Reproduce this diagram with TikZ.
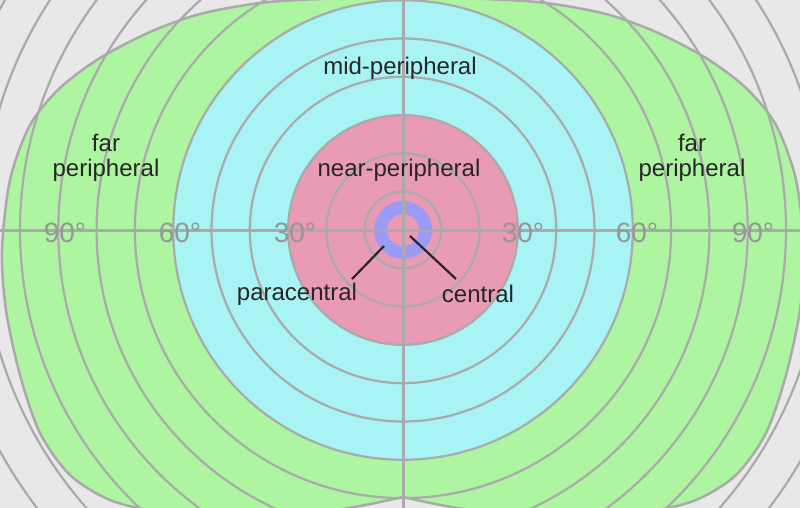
\documentclass[tikz,border=0pt]{standalone}
\usepackage{fontspec}
\setmainfont{Liberation Sans}
\definecolor{bg}{RGB}{232,232,232}
\definecolor{fgreen}{RGB}{173,245,160}
\definecolor{fcyan}{RGB}{168,244,244}
\definecolor{fpink}{RGB}{233,154,180}
\definecolor{fblue}{RGB}{155,155,245}
\definecolor{grid}{RGB}{170,170,170}
\definecolor{deg}{RGB}{150,150,150}
\begin{document}
\begin{tikzpicture}[x=1pt,y=-1pt,
  lbl/.style={font=\fontsize{24}{25}\selectfont, text=black!85, align=center, inner sep=0pt},
  deglbl/.style={font=\fontsize{28}{29}\selectfont, text=deg, inner sep=0pt},
  leader/.style={line width=2.2pt, black!85}]
\useasboundingbox (0,0) rectangle (800,508);
\clip (0,0) rectangle (800,508);
\fill[bg] (0,0) rectangle (800,508);
% green field
\fill[fgreen] (403,-3) -- plot[smooth] coordinates {(403,-3) (320,-1) (260,3) (200,14) (150,32) (100,58) (60,88) (30,125) (10,180) (2,250) (6,310) (20,375) (40,433) (70,475) (110,500) (160,512) (230,518) (300,515) (360,506) (403,497)}
  -- plot[smooth] coordinates {(403,497) (446,506) (506,515) (576,518) (646,512) (696,500) (736,475) (766,433) (786,375) (800,310) (804,250) (796,180) (776,125) (746,88) (706,58) (656,32) (606,14) (546,3) (486,-1) (403,-3)} -- cycle;
\fill[fcyan] (403,230) circle[radius=230];
\fill[fpink] (403,230) circle[radius=115];
\draw[fblue, line width=13pt] (403,230) circle[radius=22.5];
% grid
\foreach \k in {1,...,13} \draw[grid, line width=2.2pt] (403,230) circle[radius=38.3*\k];
\draw[grid, line width=3pt] (0,230) -- (800,230);
\draw[grid, line width=3pt] (403,0) -- (403,508);
% outline of green field
\draw[grid, line width=2.5pt] (403,-3) -- plot[smooth] coordinates {(403,-3) (320,-1) (260,3) (200,14) (150,32) (100,58) (60,88) (30,125) (10,180) (2,250) (6,310) (20,375) (40,433) (70,475) (110,500) (160,512) (230,518) (300,515) (360,506) (403,497)}
  -- plot[smooth] coordinates {(403,497) (446,506) (506,515) (576,518) (646,512) (696,500) (736,475) (766,433) (786,375) (800,310) (804,250) (796,180) (776,125) (746,88) (706,58) (656,32) (606,14) (546,3) (486,-1) (403,-3)};
% degree labels
\node[deglbl] (dl90) at (65,233) {90°};
\node[deglbl] (dl60) at (180,233) {60°};
\node[deglbl] (dl30) at (295,233) {30°};
\node[deglbl] (dr30) at (523,233) {30°};
\node[deglbl] (dr60) at (637,233) {60°};
\node[deglbl] (dr90) at (753,233) {90°};
% region labels
\node[lbl] (mid) at (400,68) {mid-peripheral};
\node[lbl] (farl) at (106,158) {far\\peripheral};
\node[lbl] (farr) at (692,158) {far\\peripheral};
\node[lbl] (near) at (399,170) {near-peripheral};
\node[lbl] (para) at (297,294) {paracentral};
\node[lbl] (cent) at (478,294) {central};
\coordinate (pa) at (384,246);
\coordinate (ce) at (410,236);
\draw[leader] (pa) -- (352,279);
\draw[leader] (ce) -- (456,279);
\end{tikzpicture}
\end{document}
